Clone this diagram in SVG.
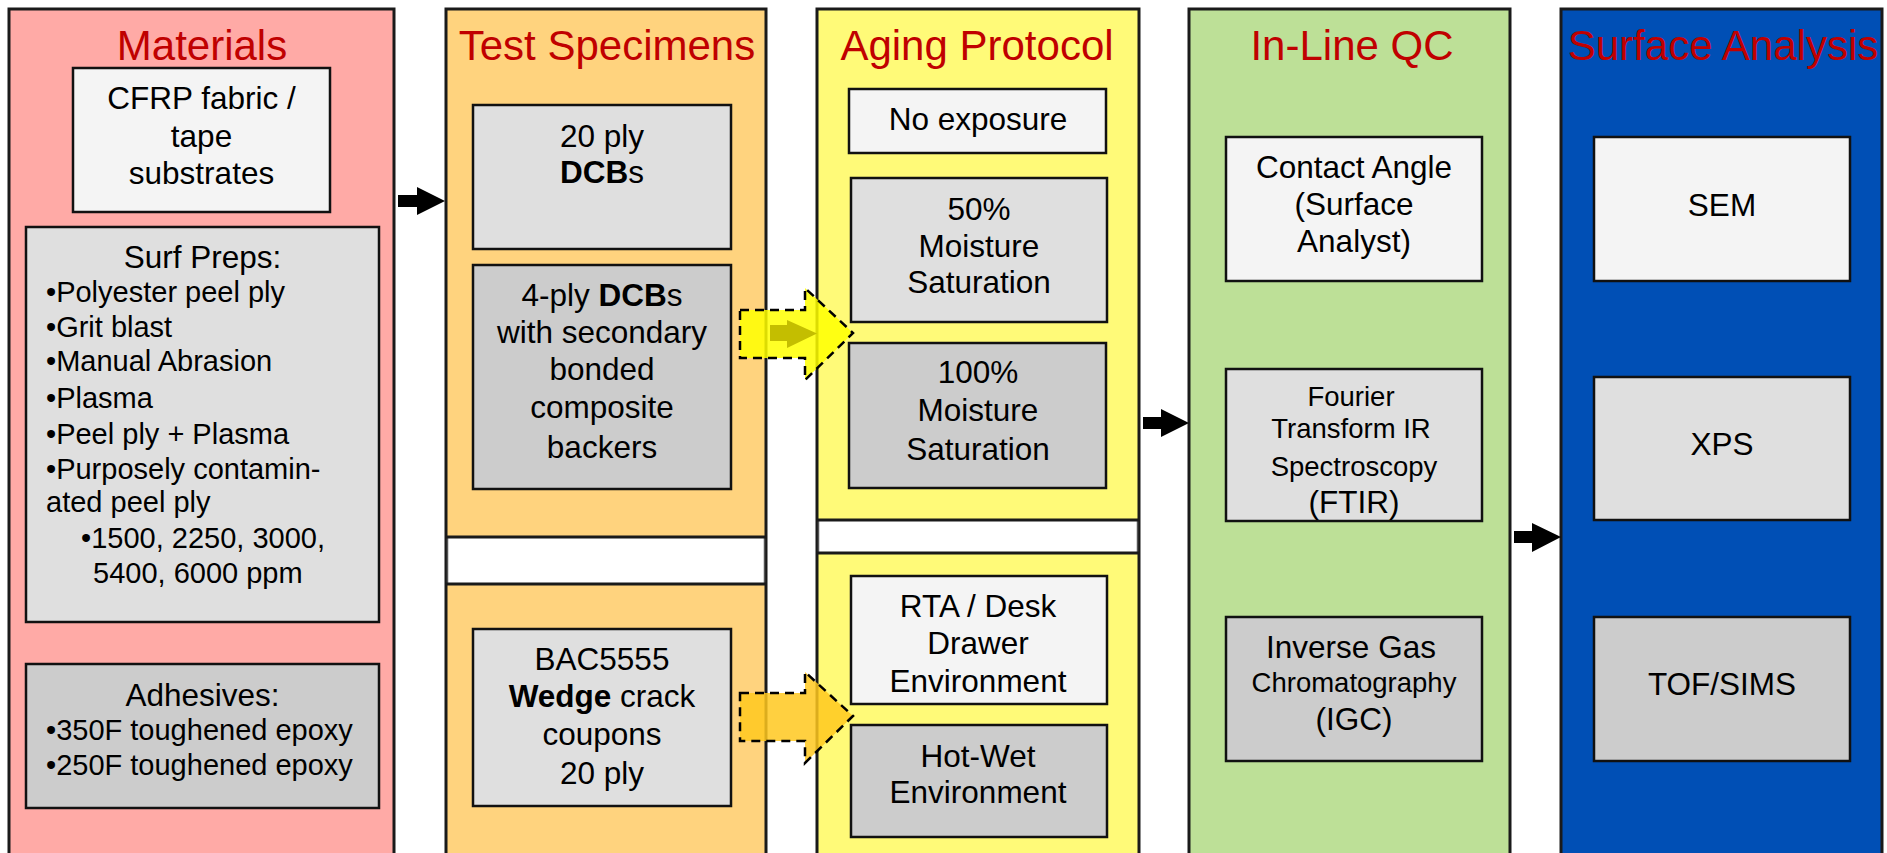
<svg xmlns="http://www.w3.org/2000/svg" width="1887" height="853" viewBox="0 0 1887 853">
<style>
  text { font-family: "Liberation Sans", Arial, sans-serif; fill: #000; }
  .title { font-size: 42px; fill: #C00000; text-anchor: middle; }
  .t { font-size: 31.5px; text-anchor: middle; }
  .s { font-size: 27.5px; text-anchor: middle; }
  .l { font-size: 29px; }
  .panel { stroke: #1a1a1a; stroke-width: 3; }
  .box { stroke: #111; stroke-width: 2.5; }
  .c1 { fill: #F4F4F4; }
  .c2 { fill: #DFDFDF; }
  .c3 { fill: #CCCCCC; }
  .blk { fill: #000; }
  .gap { fill: #fff; stroke: #555; stroke-width: 1.5; }
</style>
<rect width="1887" height="853" fill="#fff"/>

<g id="materials">
  <rect class="panel" x="9" y="9" width="385" height="870" fill="#FFAAA6"/>
  <text class="title" x="202" y="60">Materials</text>
  <rect class="box c1" x="73" y="68" width="257" height="144"/>
  <text class="t" x="201.5" y="109">CFRP fabric /</text>
  <text class="t" x="201.5" y="147">tape</text>
  <text class="t" x="201.5" y="184">substrates</text>
  <rect class="box c2" x="26" y="227" width="353" height="395"/>
  <text class="t" x="202.5" y="268">Surf Preps:</text>
  <text class="l" x="46" y="302">•Polyester peel ply</text>
  <text class="l" x="46" y="337">•Grit blast</text>
  <text class="l" x="46" y="371">•Manual Abrasion</text>
  <text class="l" x="46" y="408">•Plasma</text>
  <text class="l" x="46" y="444">•Peel ply + Plasma</text>
  <text class="l" x="46" y="479">•Purposely contamin-</text>
  <text class="l" x="46" y="512">ated peel ply</text>
  <text class="l" x="81" y="548">•1500, 2250, 3000,</text>
  <text class="l" x="93" y="583">5400, 6000 ppm</text>
  <rect class="box c3" x="26" y="664" width="353" height="144"/>
  <text class="t" x="202.5" y="706">Adhesives:</text>
  <text class="l" x="46" y="740">•350F toughened epoxy</text>
  <text class="l" x="46" y="775">•250F toughened epoxy</text>
</g>

<g id="test-specimens">
  <rect class="panel" x="446" y="9" width="320" height="870" fill="#FFD37E"/>
  <rect class="gap" x="447.5" y="537" width="317" height="47"/>
  <line x1="446" y1="537" x2="766" y2="537" stroke="#1a1a1a" stroke-width="3"/>
  <line x1="446" y1="584" x2="766" y2="584" stroke="#1a1a1a" stroke-width="3"/>
  <text class="title" x="607" y="60">Test Specimens</text>
  <rect class="box c2" x="473" y="105" width="258" height="144"/>
  <text class="t" x="602" y="147">20 ply</text>
  <text class="t" x="602" y="183"><tspan font-weight="bold">DCB</tspan>s</text>
  <rect class="box c3" x="473" y="265" width="258" height="224"/>
  <text class="t" x="602" y="306">4-ply <tspan font-weight="bold">DCB</tspan>s</text>
  <text class="t" x="602" y="343">with secondary</text>
  <text class="t" x="602" y="380">bonded</text>
  <text class="t" x="602" y="418">composite</text>
  <text class="t" x="602" y="458">backers</text>
  <rect class="box c2" x="473" y="629" width="258" height="177"/>
  <text class="t" x="602" y="670">BAC5555</text>
  <text class="t" x="602" y="707"><tspan font-weight="bold">Wedge</tspan> crack</text>
  <text class="t" x="602" y="745">coupons</text>
  <text class="t" x="602" y="784">20 ply</text>
</g>

<g id="aging-protocol">
  <rect class="panel" x="817" y="9" width="322" height="870" fill="#FFFA78"/>
  <rect class="gap" x="818.5" y="520" width="319" height="33"/>
  <line x1="817" y1="520" x2="1139" y2="520" stroke="#1a1a1a" stroke-width="3"/>
  <line x1="817" y1="553" x2="1139" y2="553" stroke="#1a1a1a" stroke-width="3"/>
  <text class="title" x="977" y="60">Aging Protocol</text>
  <rect class="box c1" x="849" y="89" width="257" height="64"/>
  <text class="t" x="978" y="130">No exposure</text>
  <rect class="box c2" x="851" y="178" width="256" height="144"/>
  <text class="t" x="979" y="220">50%</text>
  <text class="t" x="979" y="257">Moisture</text>
  <text class="t" x="979" y="293">Saturation</text>
  <rect class="box c3" x="849" y="343" width="257" height="145"/>
  <text class="t" x="978" y="383">100%</text>
  <text class="t" x="978" y="421">Moisture</text>
  <text class="t" x="978" y="460">Saturation</text>
  <rect class="box c1" x="851" y="576" width="256" height="128"/>
  <text class="t" x="978" y="617">RTA / Desk</text>
  <text class="t" x="978" y="654">Drawer</text>
  <text class="t" x="978" y="692">Environment</text>
  <rect class="box c3" x="851" y="725" width="256" height="112"/>
  <text class="t" x="978" y="767">Hot-Wet</text>
  <text class="t" x="978" y="803">Environment</text>
</g>

<g id="inline-qc">
  <rect class="panel" x="1189" y="9" width="321" height="870" fill="#BDE097"/>
  <text class="title" x="1352" y="60">In-Line QC</text>
  <rect class="box c1" x="1226" y="137" width="256" height="144"/>
  <text class="t" x="1354" y="178">Contact Angle</text>
  <text class="t" x="1354" y="215">(Surface</text>
  <text class="t" x="1354" y="252">Analyst)</text>
  <rect class="box c2" x="1226" y="369" width="256" height="152"/>
  <text class="s" x="1351" y="406">Fourier</text>
  <text class="s" x="1351" y="438">Transform IR</text>
  <text class="s" x="1354" y="476">Spectroscopy</text>
  <text class="t" x="1354" y="513">(FTIR)</text>
  <rect class="box c3" x="1226" y="617" width="256" height="144"/>
  <text class="t" x="1351" y="658">Inverse Gas</text>
  <text class="s" x="1354" y="692">Chromatography</text>
  <text class="t" x="1354" y="730">(IGC)</text>
</g>

<g id="surface-analysis">
  <rect class="panel" x="1561" y="9" width="321" height="870" fill="#004FB5"/>
  <text class="title" x="1723" y="60">Surface Analysis</text>
  <rect class="box c1" x="1594" y="137" width="256" height="144"/>
  <text class="t" x="1722" y="216">SEM</text>
  <rect class="box c2" x="1594" y="377" width="256" height="143"/>
  <text class="t" x="1722" y="455">XPS</text>
  <rect class="box c3" x="1594" y="617" width="256" height="144"/>
  <text class="t" x="1722" y="695">TOF/SIMS</text>
</g>

<g id="connectors">
  <polygon class="blk" points="398,195 417,195 417,187 445,201 417,215 417,207 398,207"/>
  <polygon class="blk" points="1143,417 1161,417 1161,409 1189,423 1161,437 1161,429 1143,429"/>
  <polygon class="blk" points="1514,531 1532,531 1532,523 1561,537 1532,552 1532,543 1514,543"/>
  <polygon points="740,310 805,310 805,288 853,333 805,380 805,358 740,358" fill="#FFFF00" fill-opacity="0.85" stroke="#000" stroke-width="2.5" stroke-dasharray="9,6"/>
  <polygon points="770,325 787,325 787,320 817,333.5 787,348 787,341 770,341" fill="#C4BE00"/>
  <polygon points="740,693 805,693 805,672 853,716 805,763 805,741 740,741" fill="#FFC81E" fill-opacity="0.85" stroke="#000" stroke-width="2.5" stroke-dasharray="9,6"/>
</g>
</svg>
